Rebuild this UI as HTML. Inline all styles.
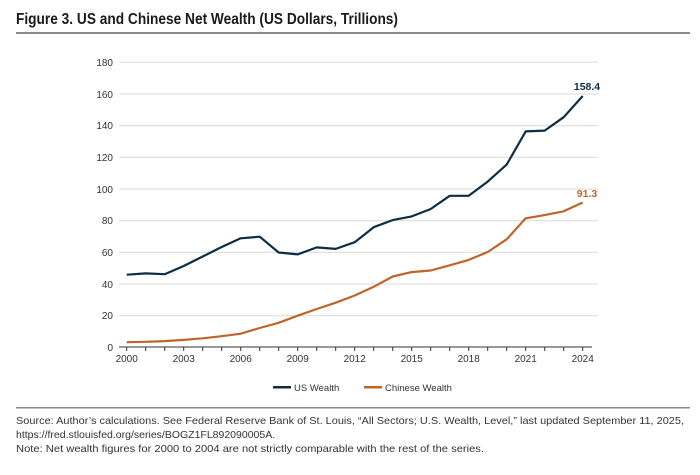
<!DOCTYPE html>
<html><head><meta charset="utf-8"><style>
body{margin:0;background:#fff;width:700px;height:470px;overflow:hidden;font-family:"Liberation Sans",sans-serif}
</style></head><body>
<svg width="700" height="470" xmlns="http://www.w3.org/2000/svg" font-family="Liberation Sans, sans-serif">
<text x="16" y="24" font-size="15.5" font-weight="bold" fill="#1a1a1a" textLength="382" lengthAdjust="spacingAndGlyphs">Figure 3. US and Chinese Net Wealth (US Dollars, Trillions)</text>
<rect x="16" y="32" width="674" height="2" fill="#8a8a8a"/>
<g stroke="#d9d9d9" stroke-width="1">
<line x1="119" x2="598" y1="62.3" y2="62.3"/><line x1="119" x2="598" y1="94" y2="94"/>
<line x1="119" x2="598" y1="125.7" y2="125.7"/><line x1="119" x2="598" y1="157.3" y2="157.3"/>
<line x1="119" x2="598" y1="189" y2="189"/><line x1="119" x2="598" y1="220.7" y2="220.7"/>
<line x1="119" x2="598" y1="252.3" y2="252.3"/><line x1="119" x2="598" y1="284" y2="284"/>
<line x1="119" x2="598" y1="315.7" y2="315.7"/>
</g>
<line x1="119" x2="592" y1="347" y2="347" stroke="#333" stroke-width="1"/>
<g font-size="10" fill="#333" text-anchor="end">
<text x="113" y="66">180</text><text x="113" y="98">160</text><text x="113" y="129">140</text>
<text x="113" y="161">120</text><text x="113" y="193">100</text><text x="113" y="224">80</text>
<text x="113" y="256">60</text><text x="113" y="288">40</text><text x="113" y="319">20</text><text x="113" y="351">0</text>
</g>
<g stroke="#333" stroke-width="1" id="ticks"></g>
<g font-size="10" fill="#333" text-anchor="middle">
<text x="126.7" y="362">2000</text><text x="183.7" y="362">2003</text><text x="240.7" y="362">2006</text>
<text x="297.7" y="362">2009</text><text x="354.7" y="362">2012</text><text x="411.7" y="362">2015</text>
<text x="468.7" y="362">2018</text><text x="525.7" y="362">2021</text><text x="582.7" y="362">2024</text>
</g>
<g stroke="#333" stroke-width="1">
<path d="M126.7 347v4M145.7 347v4M164.7 347v4M183.7 347v4M202.7 347v4M221.7 347v4M240.7 347v4M259.7 347v4M278.7 347v4M297.7 347v4M316.7 347v4M335.7 347v4M354.7 347v4M373.7 347v4M392.7 347v4M411.7 347v4M430.7 347v4M449.7 347v4M468.7 347v4M487.7 347v4M506.7 347v4M525.7 347v4M544.7 347v4M563.7 347v4M582.7 347v4"/>
</g>
<polyline fill="none" stroke="#0e2d45" stroke-width="2.2" stroke-linejoin="round" points="126.7,274.7 145.7,273.4 164.7,274.2 183.7,266 202.7,256.5 221.7,247 240.7,238.3 259.7,236.7 278.7,252.5 297.7,254.4 316.7,247.4 335.7,248.9 354.7,242.2 373.7,227.2 392.7,220.1 411.7,216.4 430.7,209 449.7,195.8 468.7,195.8 487.7,181.6 506.7,164.6 525.7,131.4 544.7,130.6 563.7,117.2 582.7,96"/>
<polyline fill="none" stroke="#c0652a" stroke-width="2.2" stroke-linejoin="round" points="126.7,342.2 145.7,341.8 164.7,341.1 183.7,339.9 202.7,338.3 221.7,336.2 240.7,333.7 259.7,328 278.7,322.8 297.7,315.7 316.7,309 335.7,302.7 354.7,295.5 373.7,286.8 392.7,276.5 411.7,272.1 430.7,270.5 449.7,265.3 468.7,259.9 487.7,252 506.7,239.3 525.7,218.3 544.7,215.1 563.7,211.3 582.7,202.5"/>
<text x="587" y="90" font-size="10.5" font-weight="bold" fill="#0e2d45" text-anchor="middle">158.4</text>
<text x="587" y="197" font-size="10.5" font-weight="bold" fill="#c0652a" text-anchor="middle">91.3</text>
<rect x="273" y="386" width="18" height="2.5" fill="#0e2d45"/>
<text x="294" y="391" font-size="9.5" fill="#333">US Wealth</text>
<rect x="364" y="386" width="18" height="2.5" fill="#c0652a"/>
<text x="385" y="391" font-size="9.5" fill="#333">Chinese Wealth</text>
<rect x="16" y="407" width="674" height="1.5" fill="#8a8a8a"/>
<g font-size="10.5" fill="#333">
<text x="16" y="424" textLength="668" lengthAdjust="spacingAndGlyphs">Source: Author’s calculations. See Federal Reserve Bank of St. Louis, “All Sectors; U.S. Wealth, Level,” last updated September 11, 2025,</text>
<text x="16" y="438">https://fred.stlouisfed.org/series/BOGZ1FL892090005A.</text>
<text x="16" y="452" textLength="468" lengthAdjust="spacingAndGlyphs">Note: Net wealth figures for 2000 to 2004 are not strictly comparable with the rest of the series.</text>
</g>
</svg>
</body></html>
